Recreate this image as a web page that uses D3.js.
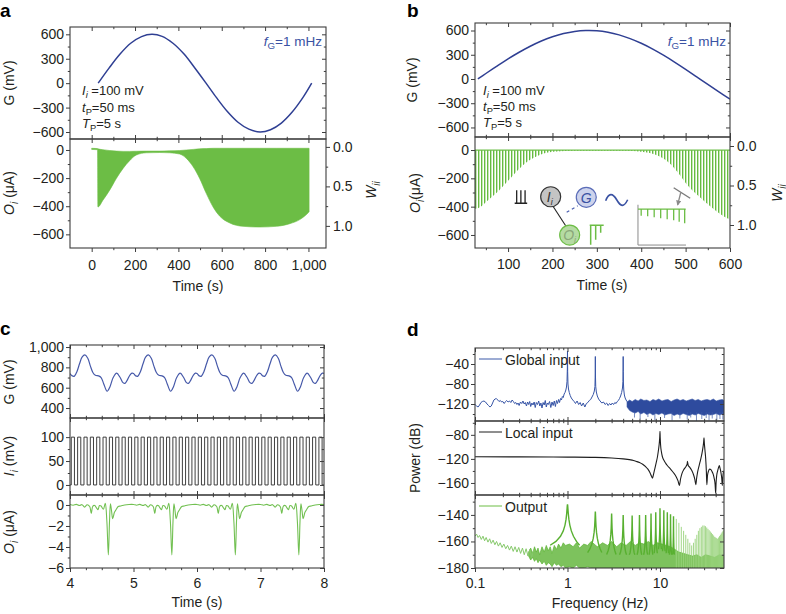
<!DOCTYPE html>
<html><head><meta charset="utf-8">
<script src="https://cdn.jsdelivr.net/npm/d3@7/dist/d3.min.js"></script>
<style>
html,body{margin:0;padding:0;background:#fff;}
svg{display:block;}
</style></head>
<body>
<svg id="fig" width="786" height="614"></svg>
<script>
// ================= DATA =================
// ---- panel a ----
const aGTime  = [30,80,130,180,230,278,325,375,425,475,525,575,625,675,725,777,825,875,925,975,1015];
const aGValue = [0,185,355,490,572,600,575,490,360,190,10,-175,-345,-480,-565,-600,-572,-490,-355,-175,0];
const aOTime  = [0,27,29,52,83,114,145,175,206,252,314,360,406,437,468,498,529,560,591,637,698,775,852,914,960,998,1003];
const aOUpper = [12,10,8,2,-4,-8,-10,-10,-9,-8,-8,-6,-4,0,4,8,10,12,12,12,12,12,12,12,12,12,12];
const aOLower = [4,2,-405,-357,-286,-202,-131,-76,-36,-20,-18,-20,-29,-60,-119,-202,-310,-405,-471,-519,-543,-548,-543,-524,-495,-448,-440];
// ---- panel b ----
const bGTime  = [32,50,75,100,125,150,175,200,225,250,275,300,325,350,375,400,425,450,475,500,525,550,575,600];
const bGValue = [0,68,160,249,331,405,470,522,562,588,599,596,578,546,500,442,373,295,210,120,26,-68,-160,-249];
const bOTime     = [25.5,32,51,73,100,126,149,171,201,254,366,400,434,464,487,501,531,561,595,600];
const bOEnvelope = [-415,-412,-365,-306,-217,-130,-71,-35,-12,-5,-5,-12,-35,-94,-177,-236,-330,-412,-483,-488];
// ---- panel c ----
const cCycles  = [4,5,6,7];
const cGPhase  = [0.00,0.035,0.07,0.11,0.15,0.19,0.235,0.28,0.32,0.36,0.40,0.45,0.49,0.53,0.585,0.63,0.68,0.735,0.79,0.835,0.865,0.90,0.94,0.975];
const cGValue  = [740,716,714,760,835,900,922,890,815,750,722,716,700,640,565,610,700,743,700,650,643,672,720,743];
const cGEnd    = [8,740];
const cIStart  = [4.02,4.12,4.22,4.32,4.42,4.52,4.62,4.72,4.82,4.92,5.02,5.12,5.22,5.32,5.42,5.52,5.62,5.72,5.82,5.92,
                  6.02,6.12,6.22,6.32,6.42,6.52,6.62,6.72,6.82,6.92,7.02,7.12,7.22,7.32,7.42,7.52,7.62,7.72,7.82,7.92];
const cIWidth  = 0.05, cIHigh = 100, cILow = 0;
const cOPhase  = [0.00,0.05,0.10,0.15,0.19,0.23,0.27,0.31,0.335,0.36,0.39,0.42,0.44,0.465,0.49,0.525,0.555,0.58,0.604,0.622,0.637,0.655,0.672,0.70,0.725,0.76,0.80,0.86,0.93];
const cOValue  = [0.05,-0.02,0.06,-0.05,0.03,-0.2,0.02,-0.15,-0.8,-0.1,-0.05,-0.3,-0.45,-0.05,-0.1,-0.4,0.15,-1.5,-4.75,-1.6,0.12,-0.6,-1.3,-0.7,-0.45,-0.15,-0.1,0.0,0.05];
const cOEnd    = [8,0.05];
// ---- panel d ----
const giFreq = [0.100,0.104,0.108,0.112,0.116,0.120,0.125,0.130,0.135,0.140,0.145,0.150,0.155,0.160,0.165,0.170,0.176,0.182,0.188,0.194,
  0.200,0.207,0.214,0.220,0.228,0.236,0.244,0.252,0.260,0.268,0.276,0.284,0.292,0.300,0.310,0.320,0.330,0.340,0.350,0.360,
  0.370,0.380,0.390,0.400,0.412,0.424,0.436,0.448,0.460,0.474,0.488,0.502,0.516,0.530,0.545,0.560,0.575,0.590,0.605,0.620,
  0.640,0.660,0.680,0.700,0.720,0.740,0.760,0.780,0.800,0.820,0.840,0.860,0.880,0.900,0.920,0.940,0.960,0.975,0.988,0.996,
  1.000,1.004,1.012,1.025,1.045,1.07,1.10,1.14,1.18,1.22,1.27,1.32,1.37,1.42,1.48,1.54,1.60,1.66,1.72,1.78,
  1.84,1.90,1.95,1.98,1.995,2.000,2.005,2.02,2.05,2.10,2.17,2.25,2.35,2.45,2.55,2.65,2.75,2.85,2.95,3.05,
  3.15,3.25,3.35,3.45,3.55,3.65,3.75,3.85,3.93,3.975,3.995,4.000,4.005,4.025,4.06,4.12,4.2,4.3,4.4,4.5];
const giPower = [-121,-124,-126,-122,-117,-115,-114,-116,-120,-123,-126,-124,-118,-112,-110,-109,-112,-115,-113,-116,
  -115,-119,-115,-113,-116,-114,-117,-112,-115,-119,-117,-121,-118,-123,-116,-119,-114,-120,-117,-124,
  -116,-121,-115,-125,-118,-122,-116,-127,-117,-121,-114,-124,-118,-128,-117,-122,-113,-126,-118,-121,
  -115,-127,-116,-123,-114,-125,-113,-119,-111,-117,-109,-112,-105,-107,-100,-97,-92,-86,-75,-50,
  -14,-55,-80,-90,-97,-103,-108,-112,-115,-119,-114,-121,-117,-124,-118,-126,-119,-117,-113,-111,
  -106,-101,-94,-85,-60,-25,-62,-85,-96,-104,-110,-114,-118,-116,-121,-118,-123,-119,-122,-118,
  -121,-117,-119,-115,-113,-109,-104,-97,-88,-75,-50,-25,-55,-78,-92,-102,-108,-112,-115,-117];
const gbFreq = [4.4,4.7,5.0,5.4,5.8,6.2,6.7,7.2,7.8,8.4,9.0,9.7,10.5,11.3,12.2,13.2,14.2,15.3,16.5,17.8,19.2,20.7,22.3,24.0,25.9,27.9,30.1,32.4,35.0,37.7,40.6,43.8,47.2,49.2];
const gbHigh = [-116,-112,-115,-111,-114,-110,-113,-112,-115,-111,-113,-110,-114,-112,-111,-115,-112,-110,-113,-111,-114,-112,-110,-113,-111,-114,-112,-111,-113,-110,-114,-112,-111,-113];
const gbLow  = [-126,-133,-136,-138,-135,-140,-137,-141,-138,-142,-139,-141,-138,-142,-140,-139,-143,-140,-142,-139,-141,-143,-140,-142,-139,-141,-143,-140,-142,-141,-139,-142,-140,-141];
const gSpikeFreq  = [5.3,6.1,7.4,8.8,11.2,13.5,16.4,19.7,21.5,24.8,28.3,31.6,33.9,36.7,41.2,44.5,47.8];
const gSpikePower = [-147,-150,-146,-152,-148,-153,-149,-151,-147,-154,-150,-148,-153,-149,-152,-150,-151];
const liFreq = [0.1,0.3,1,2,3,4,5,5.5,6,6.5,7,7.4,7.8,8.1,8.3,8.5,8.8,9.1,9.4,9.65,9.85,9.95,10.0,10.05,10.15,10.35,10.6,11,11.5,12,
  13,14,15,15.7,16.2,16.7,17.3,18.2,19.2,19.7,19.8,20.2,21,22,23,23.8,24.4,24.9,25.5,26.5,27.5,28.5,29.2,29.6,29.9,30.2,30.6,31.2,31.7,32.1,
  32.6,33.5,34.5,35.5,36.5,37.5,38.5,39.4,40,40.4,41,42,43,43.8,44.5,45.5,46.5,47.2,47.8,48.5,49.2];
const liPower = [-116.5,-116.6,-117,-117.5,-118.5,-120,-122,-124,-126,-129,-133,-137,-143,-149,-152,-146,-136,-126,-116,-104,-92,-82,-74,-84,-97,-108,-116,-122,-127,-131,
  -137,-143,-150,-157,-164,-153,-144,-137,-132,-128,-124,-131,-134,-139,-146,-154,-163,-152,-142,-131,-121,-110,-100,-93,-85,-95,-105,-120,-140,-163,
  -148,-140,-137,-138,-141,-145,-152,-162,-177,-160,-148,-140,-134,-131,-135,-142,-152,-164,-150,-142,-140];
const orFreq  = [0.100,0.104,0.108,0.112,0.117,0.122,0.127,0.132,0.138,0.144,0.150,0.157,0.164,0.171,0.179,0.187,0.196,0.205,0.215,0.225,0.236,0.247,0.259,0.271,0.284,0.297,0.311,0.326,0.341,0.357,0.374,0.392,0.41,0.43];
const orPower = [-156,-154.5,-157,-155.5,-158.5,-156,-159.5,-157,-160.5,-158,-161.5,-159,-162.5,-160,-163.5,-161,-164.5,-162,-165.5,-163,-166.5,-163.5,-167.5,-164,-168,-164.5,-169,-165,-170,-165.5,-171,-166,-172,-166.5];
const obFreq = [0.38,0.40,0.42,0.44,0.46, 0.48,0.50,0.53,0.56,0.59, 0.62,0.65,0.68,0.72,0.76, 0.80,0.85,0.90,0.95,1.05,
  1.15,1.25,1.35,1.5,1.65, 1.8,2.1,2.4,2.7,3.0, 3.4,3.8,4.3,4.8,5.4, 6.0,6.7,7.5,8.4,9.4,
  10.5,11.7,13,14.5,16, 18,20,22.5,25,28, 31,35,39,44,49.2];
const obHigh = [-168,-165,-169,-164,-168, -165,-170,-164,-168,-163, -167,-164,-169,-163,-166, -162,-165,-161,-163,-162,
  -164,-161,-165,-162,-163, -160,-164,-161,-163,-160, -164,-161,-163,-160,-163, -161,-162,-160,-163,-161,
  -162,-163,-164,-166,-168, -169,-170,-171,-170,-172, -170,-171,-172,-170,-171];
const obLow  = [-171,-174,-172,-175,-173, -176,-174,-177,-175,-178, -176,-177,-179,-176,-178, -177,-179,-178,-180,-179,
  -180,-178,-180,-180,-179, -180,-180,-180,-180,-180, -180,-180,-180,-180,-180, -180,-180,-180,-180,-180,
  -180,-180,-180,-180,-180, -180,-180,-180,-180,-180, -180,-180,-180,-180,-180];
const outHarm = [1,2,3,4,5,6,7,8,9,10,11,12,13,14,15,16,17,18,19,20,21,22,23,24,25,26,27,28,29,30,31,32,33,34,35,36,37,38,39,40,41,42,43,44,45,46,47,48,49];
const outPeak = [-132,-137.5,-139,-140,-140.5,-140,-140,-139,-138,-135,-136.5,-138,-139.5,-141,-143,-146,-149,-152,-155,-158,-161,-163,-161,-158,-155,-152,-150,-149,-148,-148,-148.5,-149.5,-150.5,-151.5,-152.5,-153.5,-154.5,-155.5,-156.5,-157,-157.5,-158,-157,-156,-155,-154,-153,-152,-151];

// ---- ticks ----
const aTimeTicks=[0,200,400,600,800,1000], aTimeMinor=[100,300,500,700,900];
const gTicks=[-600,-300,0,300,600], gMinor=[-450,-150,150,450];
const oTicks=[-600,-400,-200,0], oMinor=[-500,-300,-100];
const wTicks=[0,0.5,1], wMinor=[0.25,0.75];
const bTimeTicks=[100,200,300,400,500,600], bTimeMinor=[50,150,250,350,450,550];
const cTimeTicks=[4,5,6,7,8], cTimeMinor=[4.25,4.5,4.75,5.25,5.5,5.75,6.25,6.5,6.75,7.25,7.5,7.75];
const cGTicks=[400,600,800,1000], cGMinor=[500,700,900];
const cITicks=[0,50,100], cIMinor=[25,75];
const cOTicks=[-6,-4,-2,0], cOMinor=[-5,-3,-1];
const dFreqTicks=[0.1,1,10], dFreqMinor=[0.2,0.3,0.4,0.5,0.6,0.7,0.8,0.9,2,3,4,5,6,7,8,9,20,30,40];
const dGTicks=[-120,-80,-40], dGMinor=[-140,-100,-60,-20];
const dLTicks=[-160,-120,-80], dLMinor=[-140,-100,-60];
const dOTicks=[-180,-160,-140], dOMinor=[-170,-150,-130];

// ================= SETUP =================
const svg = d3.select("#fig");
const FONT = "'Liberation Sans', Arial, Helvetica, sans-serif";
const INK = "#3d3d3d", TXT = "#231f20";
const BLUE = "#2f3f93", GREEN = "#6cbd45";
const defs = svg.append("defs");

const aX  = d3.scaleLinear([-100,1081],[70,326]);
const aGY = d3.scaleLinear([-686,690],[139,27]);
const aOY = d3.scaleLinear([-697,78],[248,139]);
const aWY = d3.scaleLinear([-0.1,1.28],[139,248]);
const bX  = d3.scaleLinear([25.5,600],[475,730]);
const bGY = d3.scaleLinear([-718,693],[137,23]);
const bOY = d3.scaleLinear([-692,92],[248,137]);
const bWY = d3.scaleLinear([-0.114,1.291],[137,248]);
const cX  = d3.scaleLinear([4,8],[70,324]);
const cGY = d3.scaleLinear([302,1020],[418,345]);
const cIY = d3.scaleLinear([-21,140],[495,418]);
const cOY = d3.scaleLinear([-6,0.95],[568,495]);
const dX  = d3.scaleLog([0.1,49.2],[475,724]);
const dGY = d3.scaleLinear([-154,-8],[421,348]);
const dLY = d3.scaleLinear([-180,-57],[495,421]);
const dOY = d3.scaleLinear([-180,-125],[568,495]);

let clipN = 0;
function clipFor(x, y) {
  const id = "clip" + (clipN++);
  const [x0,x1] = x.range(), [yb,yt] = y.range();
  defs.append("clipPath").attr("id", id).append("rect")
    .attr("x", x0).attr("y", yt).attr("width", x1-x0).attr("height", yb-yt);
  return svg.append("g").attr("clip-path", `url(#${id})`);
}
function styleAxis(sel) {
  sel.select(".domain").remove();
  sel.selectAll(".tick line").attr("stroke", INK).attr("stroke-width", 1);
  sel.selectAll(".tick text").attr("fill", TXT).style("font-size", "14px").style("font-family", FONT);
}
function ax(gen, tx, ty) {
  return svg.append("g").attr("transform", `translate(${tx},${ty})`).call(gen).call(styleAxis);
}
function panelAxes(o) {
  const [x0,x1] = o.x.range(), [yb,yt] = o.y.range();
  const MAJ = 4, MIN = 2.2;
  ax(d3.axisLeft(o.y).tickValues(o.yMaj).tickSize(MAJ).tickPadding(2).tickFormat(o.yFmt || d3.format(",")), x0, 0);
  ax(d3.axisLeft(o.y).tickValues(o.yMin).tickSize(MIN).tickFormat(""), x0, 0);
  if (o.r) {
    ax(d3.axisRight(o.r.scale).tickValues(o.r.maj).tickSize(MAJ).tickPadding(3).tickFormat(o.r.fmt), x1, 0);
    ax(d3.axisRight(o.r.scale).tickValues(o.r.min).tickSize(MIN).tickFormat(""), x1, 0);
  } else {
    ax(d3.axisRight(o.y).tickValues(o.yMaj).tickSize(-MAJ).tickFormat(""), x1, 0);
    ax(d3.axisRight(o.y).tickValues(o.yMin).tickSize(-MIN).tickFormat(""), x1, 0);
  }
  ax(d3.axisTop(o.x).tickValues(o.xMaj).tickSize(-MAJ).tickFormat(""), 0, yt);
  ax(d3.axisTop(o.x).tickValues(o.xMin).tickSize(-MIN).tickFormat(""), 0, yt);
  if (o.xLabels) {
    ax(d3.axisBottom(o.x).tickValues(o.xMaj).tickSize(MAJ).tickPadding(o.xPad || 7).tickFormat(o.xFmt || d3.format(",")), 0, yb);
    ax(d3.axisBottom(o.x).tickValues(o.xMin).tickSize(MIN).tickFormat(""), 0, yb);
  } else {
    ax(d3.axisBottom(o.x).tickValues(o.xMaj).tickSize(-MAJ).tickFormat(""), 0, yb);
    ax(d3.axisBottom(o.x).tickValues(o.xMin).tickSize(-MIN).tickFormat(""), 0, yb);
  }
  svg.append("rect").attr("x", x0).attr("y", yt).attr("width", x1-x0).attr("height", yb-yt)
    .attr("fill", "none").attr("stroke", INK).attr("stroke-width", 1.1);
}
function rich(x, y, parts, o = {}) {
  const size = o.size || 14;
  const t = svg.append("text").attr("x", x).attr("y", y)
    .style("font-family", FONT).style("font-size", size + "px")
    .attr("fill", o.fill || TXT).attr("text-anchor", o.anchor || "start");
  if (o.weight) t.style("font-weight", o.weight);
  if (o.rotate) t.attr("transform", `rotate(-90,${x},${y})`);
  let shift = 0;
  parts.forEach(p => {
    const s = t.append("tspan").text(p.t);
    const target = p.sub ? size * 0.25 : 0;
    if (target !== shift) { s.attr("dy", target - shift); shift = target; }
    if (p.sub) s.style("font-size", (size * 0.72) + "px");
    if (p.i) s.style("font-style", "italic");
  });
  return t;
}
const line = (x, y, curve) => d3.line().x(d => x(d[0])).y(d => y(d[1])).curve(curve || d3.curveLinear);

// ================= PANEL A =================
{
  const g1 = clipFor(aX, aGY);
  g1.append("path").datum(d3.zip(aGTime, aGValue))
    .attr("d", line(aX, aGY, d3.curveCatmullRom.alpha(0.5)))
    .attr("fill", "none").attr("stroke", BLUE).attr("stroke-width", 1.5);
  const g2 = clipFor(aX, aOY);
  g2.append("path").datum(d3.zip(aOTime, aOUpper, aOLower))
    .attr("d", d3.area().x(d => aX(d[0])).y0(d => aOY(d[1])).y1(d => aOY(d[2])).curve(d3.curveMonotoneX))
    .attr("fill", GREEN).attr("stroke", GREEN).attr("stroke-width", 0.6);
  panelAxes({x: aX, y: aGY, xMaj: aTimeTicks, xMin: aTimeMinor, yMaj: gTicks, yMin: gMinor});
  panelAxes({x: aX, y: aOY, xMaj: aTimeTicks, xMin: aTimeMinor, yMaj: oTicks, yMin: oMinor, xLabels: true, xPad: 8,
    r: {scale: aWY, maj: wTicks, min: wMinor, fmt: d3.format(".1f")}});
  rich(322, 46, [{t:"f", i:true}, {t:"G", sub:true}, {t:"=1 mHz"}], {anchor:"end", fill:"#3a52a3", size:13.5});
  rich(82, 95, [{t:"I", i:true}, {t:"i", i:true, sub:true}, {t:" =100 mV"}], {size:13});
  rich(82, 112, [{t:"t", i:true}, {t:"P", sub:true}, {t:"=50 ms"}], {size:13});
  rich(82, 128, [{t:"T", i:true}, {t:"P", sub:true}, {t:"=5 s"}], {size:13});
  rich(14, 83, [{t:"G (mV)"}], {anchor:"middle", rotate:true});
  rich(14, 193, [{t:"O", i:true}, {t:"i", i:true, sub:true}, {t:" (\u03bcA)"}], {anchor:"middle", rotate:true});
  rich(376, 190, [{t:"W", i:true}, {t:"ii", i:true, sub:true}], {anchor:"middle", rotate:true});
  rich(198, 291, [{t:"Time (s)"}], {anchor:"middle"});
  rich(0, 17, [{t:"a"}], {size:19, weight:"bold", fill:"#000"});
}

// ================= PANEL B =================
{
  const g1 = clipFor(bX, bGY);
  g1.append("path").datum(d3.zip(bGTime, bGValue))
    .attr("d", line(bX, bGY, d3.curveCatmullRom.alpha(0.5)))
    .attr("fill", "none").attr("stroke", BLUE).attr("stroke-width", 1.5);
  // pulse train: envelope area used as a clip, filled with thin vertical strokes (one per pixel column group)
  defs.append("clipPath").attr("id", "bEnvClip").append("path").datum(d3.zip(bOTime, bOEnvelope))
    .attr("d", d3.area().x(d => bX(d[0])).y0(bOY(0)).y1(d => bOY(d[1])).curve(d3.curveMonotoneX));
  const g2 = clipFor(bX, bOY);
  const hatch = g2.append("g").attr("clip-path", "url(#bEnvClip)");
  const [bx0, bx1] = bX.range();
  hatch.append("path")
    .attr("d", d3.range(Math.round(bx0) + 0.5, bx1, 3).map(x => `M${x},${bOY(0)}V${bOY(-692)}`).join(""))
    .attr("stroke", "#66bb40").attr("stroke-width", 1);
  hatch.append("path")
    .attr("d", d3.range(Math.round(bx0) + 1.5, bx1, 3).map(x => `M${x},${bOY(0)}V${bOY(-692)}`).join(""))
    .attr("stroke", "#c4e5b3").attr("stroke-width", 1);
  g2.append("path").datum(bOTime.map(t => [t, 0]))
    .attr("d", line(bX, bOY)).attr("fill", "none").attr("stroke", "#6fbf4b").attr("stroke-width", 1.2);

  // schematic inset
  const sch = svg.append("g").attr("transform", `translate(${bX(196)},${bOY(-330)})`);
  sch.append("path").attr("d", "M-36,6.5H-23.5 M-34,6.5V-6.5 M-29.8,6.5V-6.5 M-25.6,6.5V-6.5")
    .attr("stroke", "#222").attr("stroke-width", 1.3).attr("fill", "none");
  sch.append("line").attr("x1", 2).attr("y1", 9).attr("x2", 15).attr("y2", 29).attr("stroke", "#222").attr("stroke-width", 1.1);
  sch.append("line").attr("x1", 16).attr("y1", 15.5).attr("x2", 27).attr("y2", 9).attr("stroke", "#4a5fb0")
    .attr("stroke-width", 1.2).attr("stroke-dasharray", "3,3");
  sch.append("circle").attr("r", 10).attr("fill", "#c4c4c4").attr("stroke", "#333").attr("stroke-width", 1.2);
  sch.append("circle").attr("cx", 35.6).attr("cy", 0.6).attr("r", 10).attr("fill", "#cdd3ec").attr("stroke", "#5b6db8").attr("stroke-width", 1.2);
  sch.append("circle").attr("cx", 19).attr("cy", 38.3).attr("r", 10).attr("fill", "#b5dba3").attr("stroke", "#6cbd45").attr("stroke-width", 1.2);
  sch.append("path").attr("d", "M55,4 C58,-4 62,-4 66,3 S73,11 77,3").attr("fill", "none").attr("stroke", "#3a52a3").attr("stroke-width", 1.6);
  sch.append("path").attr("d", "M39,28.5H53 M40,28.5V48 M45,28.5V43 M50,28.5V36")
    .attr("fill", "none").attr("stroke", "#6cbd45").attr("stroke-width", 1.5);
  const tI = sch.append("text").attr("x", -1).attr("y", 5).attr("text-anchor", "middle")
    .style("font-family", FONT).style("font-size", "14px").style("font-style", "italic").attr("fill", "#333");
  tI.append("tspan").text("I"); tI.append("tspan").text("i").attr("dy", 3).style("font-size", "9px");
  sch.append("text").attr("x", 35.6).attr("y", 6).attr("text-anchor", "middle")
    .style("font-family", FONT).style("font-size", "14px").style("font-style", "italic").attr("fill", "#3a52a3").text("G");
  const tO = sch.append("text").attr("x", 19).attr("y", 43.5).attr("text-anchor", "middle")
    .style("font-family", FONT).style("font-size", "14px").style("font-style", "italic").attr("fill", "#8aa77a");
  tO.append("tspan").text("O"); tO.append("tspan").text("i").attr("dy", 3).style("font-size", "9px");
  sch.append("path").attr("d", "M87.3,8V48.3H135.3").attr("fill", "none").attr("stroke", "#8a8a8a").attr("stroke-width", 1);
  sch.append("path").attr("d", "M87.3,12.3H135").attr("stroke", "#6cbd45").attr("stroke-width", 1.3);
  const spikeX = [90.5,97,103.5,110,116.5,123,128.5,134], spikeY = [19,19.5,20.5,21.5,22.5,23.5,25,26.5];
  sch.append("path").attr("d", spikeX.map((x, i) => `M${x},12.3V${spikeY[i]}`).join(""))
    .attr("stroke", "#6cbd45").attr("stroke-width", 1.3);
  defs.append("marker").attr("id", "arr").attr("viewBox", "0 0 10 10").attr("refX", 8).attr("refY", 5)
    .attr("markerWidth", 4).attr("markerHeight", 4).attr("orient", "auto")
    .append("path").attr("d", "M0,0L10,5L0,10z").attr("fill", "#8a8a8a");
  sch.append("line").attr("x1", 123).attr("y1", -9).attr("x2", 139.5).attr("y2", 1.5).attr("stroke", "#7a7a7a").attr("stroke-width", 1.4);
  sch.append("line").attr("x1", 130).attr("y1", -4).attr("x2", 127).attr("y2", 8).attr("stroke", "#8a8a8a")
    .attr("stroke-width", 1.3).attr("marker-end", "url(#arr)");

  panelAxes({x: bX, y: bGY, xMaj: bTimeTicks, xMin: bTimeMinor, yMaj: gTicks, yMin: gMinor});
  panelAxes({x: bX, y: bOY, xMaj: bTimeTicks, xMin: bTimeMinor, yMaj: oTicks, yMin: oMinor, xLabels: true, xPad: 7,
    r: {scale: bWY, maj: wTicks, min: wMinor, fmt: d3.format(".1f")}});
  rich(726, 46, [{t:"f", i:true}, {t:"G", sub:true}, {t:"=1 mHz"}], {anchor:"end", fill:"#3a52a3", size:13.5});
  rich(483, 95, [{t:"I", i:true}, {t:"i", i:true, sub:true}, {t:" =100 mV"}], {size:13});
  rich(483, 111, [{t:"t", i:true}, {t:"P", sub:true}, {t:"=50 ms"}], {size:13});
  rich(483, 127, [{t:"T", i:true}, {t:"P", sub:true}, {t:"=5 s"}], {size:13});
  rich(417, 80, [{t:"G (mV)"}], {anchor:"middle", rotate:true});
  rich(420, 193, [{t:"O", i:true}, {t:"i", i:true, sub:true}, {t:"(\u03bcA)"}], {anchor:"middle", rotate:true});
  rich(782, 193, [{t:"W", i:true}, {t:"ii", i:true, sub:true}], {anchor:"middle", rotate:true});
  rich(602, 290, [{t:"Time (s)"}], {anchor:"middle"});
  rich(407, 17, [{t:"b"}], {size:19, weight:"bold", fill:"#000"});
}

// ================= PANEL C =================
{
  const gSeries = cCycles.flatMap(c => cGPhase.map((p, i) => [c + p, cGValue[i]])).concat([cGEnd]);
  const g1 = clipFor(cX, cGY);
  g1.append("path").datum(gSeries).attr("d", line(cX, cGY, d3.curveCatmullRom.alpha(0.5)))
    .attr("fill", "none").attr("stroke", "#4659a9").attr("stroke-width", 1.2);
  const iSeries = [[cX.domain()[0], cILow]].concat(
    cIStart.flatMap(s => [[s, cILow], [s, cIHigh], [s + cIWidth, cIHigh], [s + cIWidth, cILow]]),
    [[cX.domain()[1], cILow]]);
  const g2 = clipFor(cX, cIY);
  g2.append("path").datum(iSeries).attr("d", line(cX, cIY))
    .attr("fill", "none").attr("stroke", "#2a2a2a").attr("stroke-width", 0.9);
  const oSeries = cCycles.flatMap(c => cOPhase.map((p, i) => [c + p, cOValue[i]])).concat([cOEnd]);
  const g3 = clipFor(cX, cOY);
  g3.append("path").datum(oSeries).attr("d", line(cX, cOY, d3.curveCatmullRom.alpha(0.5)))
    .attr("fill", "none").attr("stroke", "#72c052").attr("stroke-width", 1.1);

  panelAxes({x: cX, y: cGY, xMaj: cTimeTicks, xMin: cTimeMinor, yMaj: cGTicks, yMin: cGMinor});
  panelAxes({x: cX, y: cIY, xMaj: cTimeTicks, xMin: cTimeMinor, yMaj: cITicks, yMin: cIMinor});
  panelAxes({x: cX, y: cOY, xMaj: cTimeTicks, xMin: cTimeMinor, yMaj: cOTicks, yMin: cOMinor, xLabels: true, xPad: 6, xFmt: d3.format("d")});
  rich(14, 382, [{t:"G (mV)"}], {anchor:"middle", rotate:true});
  rich(14, 456, [{t:"I", i:true}, {t:"i", i:true, sub:true}, {t:" (mV)"}], {anchor:"middle", rotate:true});
  rich(14, 532, [{t:"O", i:true}, {t:"i", i:true, sub:true}, {t:" (\u03bcA)"}], {anchor:"middle", rotate:true});
  rich(197, 607, [{t:"Time (s)"}], {anchor:"middle"});
  rich(0, 335, [{t:"c"}], {size:19, weight:"bold", fill:"#000"});
}

// ================= PANEL D =================
{
  const g1 = clipFor(dX, dGY);
  g1.append("path").datum(d3.zip(gbFreq, gbLow, gbHigh))
    .attr("d", d3.area().x(d => dX(d[0])).y0(d => dGY(d[1])).y1(d => dGY(d[2])))
    .attr("fill", "#2e4b9e").attr("stroke", "#3d5aa8").attr("stroke-width", 0.6);
  g1.append("path").attr("d", gSpikeFreq.map((f, i) => `M${dX(f)},${dGY(-136)}V${dGY(gSpikePower[i])}`).join(""))
    .attr("stroke", "#3d5aa8").attr("stroke-width", 0.7);
  g1.append("path").datum(d3.zip(giFreq, giPower)).attr("d", line(dX, dGY))
    .attr("fill", "none").attr("stroke", "#3654a6").attr("stroke-width", 1);
  const g2 = clipFor(dX, dLY);
  g2.append("path").datum(d3.zip(liFreq, liPower)).attr("d", line(dX, dLY, d3.curveMonotoneX))
    .attr("fill", "none").attr("stroke", "#1e1e1e").attr("stroke-width", 1.1);
  const g3 = clipFor(dX, dOY);
  g3.append("path").datum(d3.zip(obFreq, obLow, obHigh))
    .attr("d", d3.area().x(d => dX(d[0])).y0(d => dOY(d[1])).y1(d => dOY(d[2])))
    .attr("fill", "#5cb334").attr("fill-opacity", 0.8).attr("stroke", "#5cb334").attr("stroke-width", 0.7);
  g3.append("path").datum(d3.zip(orFreq, orPower)).attr("d", line(dX, dOY))
    .attr("fill", "none").attr("stroke", "#86c96b").attr("stroke-width", 1);
  const shoulder = [-0.35,-0.25,-0.16,-0.1,-0.06,-0.035,-0.02,-0.01,-0.004,0,0.004,0.01,0.02,0.035,0.06,0.1,0.16,0.25,0.35];
  const gamma = 0.01, floorDb = -170;
  outHarm.forEach((k, i) => {
    const pk = outPeak[i];
    if (k <= 14) {
      const pts = shoulder.map(dk => [k + dk, Math.max(floorDb, pk - 10 * Math.log10(1 + (dk / gamma) ** 2))]);
      g3.append("path").datum(pts).attr("d", line(dX, dOY)).attr("fill", "none")
        .attr("stroke", "#58b030").attr("stroke-width", 1.4);
    } else {
      g3.append("line").attr("x1", dX(k)).attr("x2", dX(k)).attr("y1", dOY(-180)).attr("y2", dOY(pk))
        .attr("stroke", "#98d27c").attr("stroke-width", 0.9);
    }
  });

  panelAxes({x: dX, y: dGY, xMaj: dFreqTicks, xMin: dFreqMinor, yMaj: dGTicks, yMin: dGMinor, yFmt: d3.format("d")});
  panelAxes({x: dX, y: dLY, xMaj: dFreqTicks, xMin: dFreqMinor, yMaj: dLTicks, yMin: dLMinor, yFmt: d3.format("d")});
  panelAxes({x: dX, y: dOY, xMaj: dFreqTicks, xMin: dFreqMinor, yMaj: dOTicks, yMin: dOMinor, yFmt: d3.format("d"),
    xLabels: true, xPad: 6, xFmt: d3.format("~g")});

  const legends = [["Global input", "#3b58a8", dGY], ["Local input", "#1e1e1e", dLY], ["Output", "#6cbd45", dOY]];
  legends.forEach(([name, col, ys]) => {
    const yt = ys.range()[1];
    svg.append("line").attr("x1", dX.range()[0] + 4).attr("x2", dX.range()[0] + 27)
      .attr("y1", yt + 11).attr("y2", yt + 11).attr("stroke", col).attr("stroke-width", 1);
    rich(dX.range()[0] + 30, yt + 17, [{t: name}]);
  });
  rich(420, 458, [{t:"Power (dB)"}], {anchor:"middle", rotate:true});
  rich(600, 608, [{t:"Frequency (Hz)"}], {anchor:"middle"});
  rich(407, 336, [{t:"d"}], {size:19, weight:"bold", fill:"#000"});
}
</script>
</body></html>
